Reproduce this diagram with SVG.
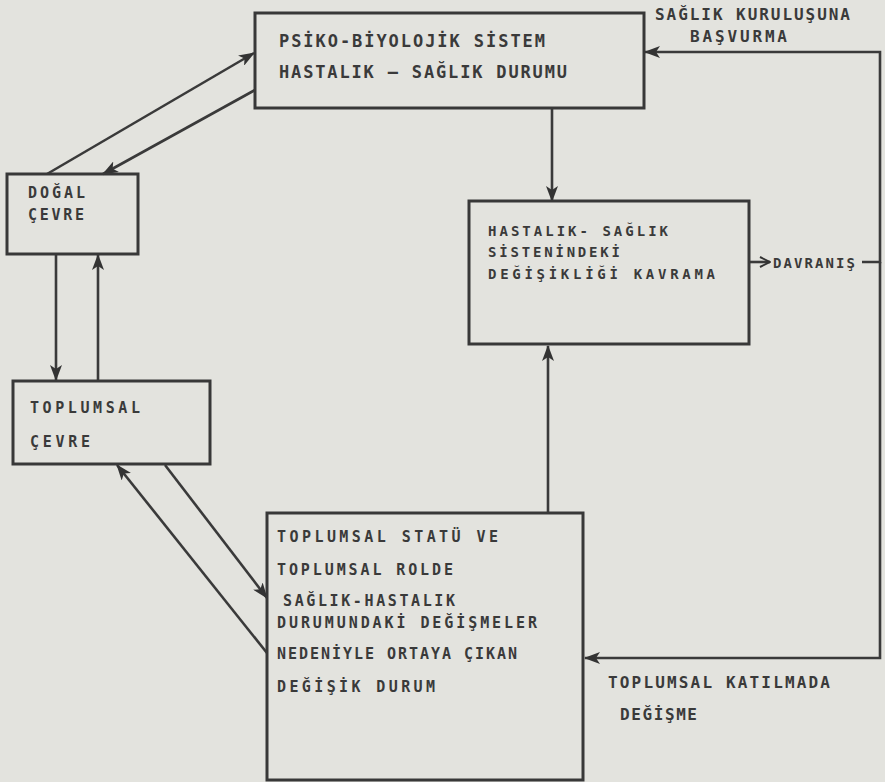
<svg xmlns="http://www.w3.org/2000/svg" width="885" height="782" viewBox="0 0 885 782">
<defs>
<style>
.bg{fill:#e3e3de}
.box{fill:none;stroke:#383838;stroke-width:3}
.ln{fill:none;stroke:#3a3a3a;stroke-width:2.6}
.t{font-family:"DejaVu Sans Mono","Liberation Mono",monospace;font-weight:bold;fill:#3a3a3a;font-size:16px}
.s{font-size:15px}
.m{font-size:14px}
.l{font-size:17px}
</style>
<marker id="ah" viewBox="0 0 16 12" refX="15" refY="6" markerWidth="16" markerHeight="12" markerUnits="userSpaceOnUse" orient="auto">
<path d="M0,0 L16,6 L0,12 L4,6 z" fill="#333"/>
</marker>
<marker id="oh" viewBox="0 0 12 12" refX="11" refY="6" markerWidth="12" markerHeight="12" markerUnits="userSpaceOnUse" orient="auto">
<path d="M1,1 L11,6 L1,11" fill="none" stroke="#333" stroke-width="2"/>
</marker>
</defs>
<rect class="bg" x="0" y="0" width="885" height="782"/>

<g id="connectors">
<line class="ln" x1="47" y1="174" x2="254" y2="53" marker-end="url(#ah)"/>
<line class="ln" x1="255" y1="90" x2="103" y2="174" marker-end="url(#ah)"/>
<line class="ln" x1="56" y1="255" x2="56" y2="380" marker-end="url(#ah)"/>
<line class="ln" x1="98" y1="381" x2="98" y2="255" marker-end="url(#ah)"/>
<line class="ln" x1="165" y1="465" x2="267" y2="598" marker-end="url(#ah)"/>
<line class="ln" x1="267" y1="653" x2="117" y2="465" marker-end="url(#ah)"/>
<line class="ln" x1="552" y1="108" x2="552" y2="201" marker-end="url(#ah)"/>
<line class="ln" x1="548" y1="513" x2="548" y2="346" marker-end="url(#ah)"/>
<line class="ln" x1="749" y1="262" x2="770" y2="262" marker-end="url(#oh)"/>
<path class="ln" d="M862,262 H880 V52 H645" marker-end="url(#ah)"/>
<path class="ln" d="M880,262 V658 H585" marker-end="url(#ah)"/>
</g>

<g id="psiko-biyolojik">
<rect class="box" x="255" y="13" width="389" height="95"/>
<text class="t l" x="279" y="47" textLength="266">PSİKO-BİYOLOJİK  SİSTEM</text>
<text class="t l" x="279" y="78" textLength="288">HASTALIK – SAĞLIK  DURUMU</text>
</g>

<g id="kavrama">
<rect class="box" x="469" y="201" width="280" height="143"/>
<text class="t m" x="488" y="236" textLength="180">HASTALIK- SAĞLIK</text>
<text class="t m" x="488" y="257" textLength="132">SİSTENİNDEKİ</text>
<text class="t m" x="488" y="279" textLength="227">DEĞİŞİKLİĞİ  KAVRAMA</text>
</g>

<g id="davranis">
<text class="t m" x="773" y="268" textLength="82">DAVRANIŞ</text>
</g>

<g id="saglik-kurulusu">
<text class="t" x="655" y="20" textLength="195">SAĞLIK KURULUŞUNA</text>
<text class="t" x="690" y="42" textLength="97">BAŞVURMA</text>
</g>

<g id="dogal-cevre">
<rect class="box" x="7" y="174" width="131" height="80"/>
<text class="t s" x="28" y="198" textLength="57">DOĞAL</text>
<text class="t s" x="28" y="220" textLength="56">ÇEVRE</text>
</g>

<g id="toplumsal-cevre">
<rect class="box" x="13" y="381" width="197" height="83"/>
<text class="t s" x="30" y="413" textLength="110">TOPLUMSAL</text>
<text class="t s" x="30" y="447" textLength="60">ÇEVRE</text>
</g>

<g id="toplumsal-statu">
<rect class="box" x="267" y="513" width="316" height="267"/>
<text class="t s" x="277" y="542" textLength="221">TOPLUMSAL  STATÜ  VE</text>
<text class="t s" x="277" y="575" textLength="176">TOPLUMSAL  ROLDE</text>
<text class="t s" x="283" y="606" textLength="172">SAĞLIK-HASTALIK</text>
<text class="t s" x="277" y="628" textLength="260">DURUMUNDAKİ  DEĞİŞMELER</text>
<text class="t s" x="277" y="659" textLength="240">NEDENİYLE ORTAYA ÇIKAN</text>
<text class="t s" x="277" y="692" textLength="158">DEĞİŞİK  DURUM</text>
</g>

<g id="toplumsal-katilma">
<text class="t" x="608" y="688" textLength="222">TOPLUMSAL KATILMADA</text>
<text class="t" x="620" y="720" textLength="77">DEĞİŞME</text>
</g>
</svg>
